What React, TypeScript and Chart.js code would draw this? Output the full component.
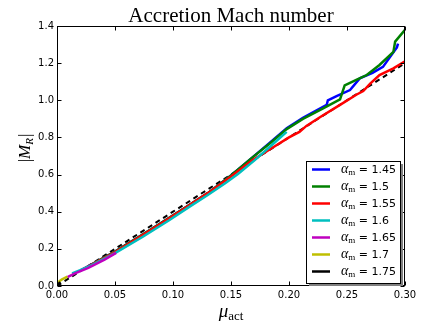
import React, { useEffect, useRef } from "react";
import { Chart, registerables } from "chart.js";

Chart.register(...registerables);

const seriesLabels = ["1.45", "1.5", "1.55", "1.6", "1.65", "1.7", "1.75"];
const seriesColors = ["#0000ff", "#008000", "#ff0000", "#00bfbf", "#bf00bf", "#bfbf00", "#000000"];

const mu145 = [0.02, 0.03, 0.05, 0.07, 0.09, 0.11, 0.13, 0.15, 0.168, 0.185, 0.198, 0.212, 0.2325, 0.2335, 0.241, 0.2526, 0.261, 0.272, 0.281, 0.293, 0.294];
const mr145 = [0.083, 0.117, 0.185, 0.262, 0.34, 0.42, 0.5, 0.595, 0.69, 0.78, 0.85, 0.905, 0.975, 1.0, 1.023, 1.055, 1.118, 1.148, 1.18, 1.285, 1.305];

const mu150 = [0.03, 0.05, 0.07, 0.09, 0.11, 0.13, 0.15, 0.168, 0.185, 0.198, 0.212, 0.229, 0.244, 0.248, 0.258, 0.267, 0.278, 0.29, 0.2915, 0.3];
const mr150 = [0.117, 0.185, 0.262, 0.34, 0.42, 0.5, 0.595, 0.69, 0.775, 0.845, 0.9, 0.955, 1.005, 1.08, 1.11, 1.136, 1.19, 1.26, 1.316, 1.38];

const mu155 = [0.022, 0.03, 0.05, 0.07, 0.09, 0.11, 0.13, 0.15, 0.168, 0.185, 0.2, 0.209, 0.215, 0.227, 0.244, 0.258, 0.264, 0.27, 0.278, 0.29, 0.3];
const mr155 = [0.09, 0.115, 0.183, 0.26, 0.338, 0.418, 0.5, 0.59, 0.675, 0.742, 0.8, 0.83, 0.862, 0.91, 0.975, 1.03, 1.05, 1.09, 1.136, 1.172, 1.21];

const mu160 = [0.013, 0.02, 0.03, 0.05, 0.074, 0.097, 0.115, 0.13, 0.145, 0.156, 0.17, 0.185, 0.198];
const mr160 = [0.068, 0.085, 0.112, 0.177, 0.265, 0.355, 0.43, 0.49, 0.553, 0.603, 0.675, 0.758, 0.83];

const mu165 = [0.009, 0.0155, 0.027, 0.041, 0.051];
const mr165 = [0.048, 0.068, 0.097, 0.142, 0.178];

const mu170 = [0.0005, 0.004, 0.009];
const mr170 = [0.018, 0.035, 0.05];

const mu175 = [0.0, 0.003];
const mr175 = [0.004, 0.02];

const muFit = [0.0, 0.1, 0.2, 0.3];
const mrFit = [0.0, 0.4, 0.8, 1.2];

const xTicks = [0, 0.05, 0.1, 0.15, 0.2, 0.25, 0.3];
const yTicks = [0, 0.2, 0.4, 0.6, 0.8, 1.0, 1.2, 1.4];

const seriesMu = [mu145, mu150, mu155, mu160, mu165, mu170, mu175];
const seriesMr = [mr145, mr150, mr155, mr160, mr165, mr170, mr175];

const toPoints = (xs: number[], ys: number[]) => xs.map((x, i) => ({ x, y: ys[i] }));

const decorPlugin = {
  id: "decor",
  afterDatasetsDraw(chart: any) {
    const { ctx, chartArea: a, scales } = chart;
    ctx.save();
    ctx.strokeStyle = "#000";
    ctx.lineWidth = 1;
    const L = Math.round(a.left) + 0.5;
    const T = Math.round(a.top) + 0.5;
    const R = Math.round(a.right) - 0.5;
    const B = Math.round(a.bottom) - 0.5;
    ctx.strokeRect(L, T, R - L, B - T);
    ctx.beginPath();
    xTicks.forEach((v) => {
      const px = Math.round(scales.x.getPixelForValue(v)) + 0.5;
      ctx.moveTo(px, B);
      ctx.lineTo(px, B - 4);
      ctx.moveTo(px, T);
      ctx.lineTo(px, T + 4);
    });
    yTicks.forEach((v) => {
      const py = Math.round(scales.y.getPixelForValue(v)) + 0.5;
      ctx.moveTo(L, py);
      ctx.lineTo(L + 4, py);
      ctx.moveTo(R, py);
      ctx.lineTo(R - 4, py);
    });
    ctx.stroke();

    // title
    ctx.fillStyle = "#000";
    ctx.textAlign = "center";
    ctx.textBaseline = "alphabetic";
    ctx.font = "21px 'Liberation Serif'";
    ctx.fillText("Accretion Mach number", (a.left + a.right) / 2, 22);

    // x label mu_act
    const cx = (a.left + a.right) / 2;
    ctx.textAlign = "left";
    ctx.font = "italic 19px 'Liberation Serif'";
    const muW = ctx.measureText("μ").width;
    ctx.font = "13px 'Liberation Serif'";
    const actW = ctx.measureText("act").width;
    const startX = cx - (muW + actW) / 2;
    ctx.font = "italic 19px 'Liberation Serif'";
    ctx.fillText("μ", startX, 317);
    ctx.font = "13px 'Liberation Serif'";
    ctx.fillText("act", startX + muW, 320);

    // y label |M_R|
    ctx.save();
    ctx.translate(30, 148);
    ctx.rotate(-Math.PI / 2);
    ctx.font = "17px 'Liberation Serif'";
    const barW = ctx.measureText("|").width;
    ctx.font = "italic 17px 'Liberation Serif'";
    const mW = ctx.measureText("M").width;
    ctx.font = "italic 11px 'Liberation Serif'";
    const rW = ctx.measureText("R").width;
    let x0 = -(barW * 2 + mW + rW + 1) / 2;
    ctx.font = "17px 'Liberation Serif'";
    ctx.fillText("|", x0, 0);
    x0 += barW;
    ctx.font = "italic 17px 'Liberation Serif'";
    ctx.fillText("M", x0, 0);
    x0 += mW;
    ctx.font = "italic 11px 'Liberation Serif'";
    ctx.fillText("R", x0, 3);
    x0 += rW + 1;
    ctx.font = "17px 'Liberation Serif'";
    ctx.fillText("|", x0, 0);
    ctx.restore();

    // legend
    const bx = 306, by = 161, bw = 94, bh = 122;
    ctx.fillStyle = "#7f7f7f";
    ctx.fillRect(bx + 3, by + 3, bw, bh);
    ctx.fillStyle = "#fff";
    ctx.fillRect(bx, by, bw, bh);
    ctx.strokeStyle = "#000";
    ctx.lineWidth = 1;
    ctx.strokeRect(bx + 0.5, by + 0.5, bw, bh);
    seriesLabels.forEach((lab, i) => {
      const y = 169 + i * 17;
      ctx.strokeStyle = seriesColors[i];
      ctx.lineWidth = 2.5;
      ctx.beginPath();
      ctx.moveTo(312, y + 0.5);
      ctx.lineTo(330, y + 0.5);
      ctx.stroke();
      ctx.fillStyle = "#000";
      ctx.font = "italic 14px 'Liberation Serif'";
      ctx.fillText("α", 341, y + 4);
      const aw = ctx.measureText("α").width;
      ctx.font = "9px 'Liberation Serif'";
      ctx.fillText("m", 341 + aw, y + 6);
      const mw = ctx.measureText("m").width;
      ctx.font = "11px 'DejaVu Sans'";
      ctx.fillText(" = " + lab, 341 + aw + mw, y + 4);
    });
    ctx.restore();
  },
};

export default function App() {
  const ref = useRef<HTMLCanvasElement>(null);
  useEffect(() => {
    document.body.style.margin = "0";
    const datasets: any[] = seriesLabels.map((lab, i) => ({
      label: "αm = " + lab,
      data: toPoints(seriesMu[i], seriesMr[i]),
      borderColor: seriesColors[i],
      backgroundColor: seriesColors[i],
      borderWidth: 2.5,
      pointRadius: 0,
      tension: 0,
      fill: false,
      order: 10 - i,
    }));
    datasets.push({
      label: "fit",
      data: toPoints(muFit, mrFit),
      borderColor: "#000",
      borderWidth: 2,
      borderDash: [5, 4],
      pointRadius: 0,
      fill: false,
      order: 20,
    });
    const chart = new Chart(ref.current!, {
      type: "line",
      data: { datasets },
      plugins: [decorPlugin],
      options: {
        animation: false,
        responsive: false,
        devicePixelRatio: 1,
        layout: { padding: { left: 0, top: 26, right: 31, bottom: 0 } },
        plugins: { legend: { display: false }, tooltip: { enabled: false }, title: { display: false } },
        scales: {
          x: {
            type: "linear",
            min: 0,
            max: 0.3,
            afterBuildTicks: (s: any) => { s.ticks = xTicks.map((v) => ({ value: v })); },
            afterFit: (s: any) => { s.height = 41; },
            grid: { display: false, drawTicks: false },
            border: { display: false },
            ticks: {
              padding: 3,
              color: "#000",
              font: { family: "'DejaVu Sans'", size: 10 },
              maxRotation: 0,
              callback: (v: any) => Number(v).toFixed(2),
            },
          },
          y: {
            type: "linear",
            min: 0,
            max: 1.4,
            afterBuildTicks: (s: any) => { s.ticks = yTicks.map((v) => ({ value: v })); },
            afterFit: (s: any) => { s.width = 57; },
            grid: { display: false, drawTicks: false },
            border: { display: false },
            ticks: {
              padding: 3,
              color: "#000",
              font: { family: "'DejaVu Sans'", size: 10 },
              callback: (v: any) => Number(v).toFixed(1),
            },
          },
        },
      },
    });
    return () => chart.destroy();
  }, []);
  return (
    <canvas
      ref={ref}
      width={436}
      height={327}
      style={{ position: "absolute", left: 0, top: 0, width: 436, height: 327 }}
    />
  );
}
